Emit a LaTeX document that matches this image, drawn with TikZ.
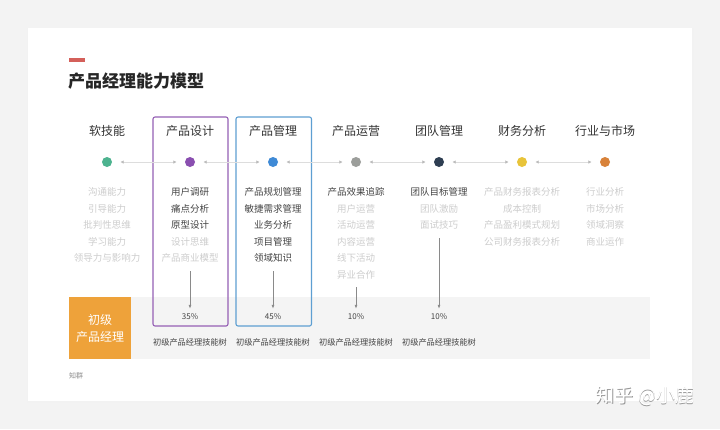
\documentclass[tikz,border=0pt]{standalone}
\usepackage{fontspec}
\setmainfont{Noto Sans CJK SC}
\newfontfamily\cjk{Noto Sans CJK SC}
\usetikzlibrary{arrows.meta}
\definecolor{bgout}{HTML}{F3F3F3}
\definecolor{band}{HTML}{F4F4F4}
\definecolor{titlec}{HTML}{262626}
\definecolor{redbar}{HTML}{D4605A}
\definecolor{headc}{HTML}{333333}
\definecolor{darkitem}{HTML}{444444}
\definecolor{lightitem}{HTML}{CDCDCD}
\definecolor{cgreen}{HTML}{4DB38F}
\definecolor{cpurple}{HTML}{8A4FB0}
\definecolor{cblue}{HTML}{3F8AD6}
\definecolor{cgrey}{HTML}{9C9E9B}
\definecolor{cnavy}{HTML}{2E3E52}
\definecolor{cyellow}{HTML}{E8C43A}
\definecolor{corange}{HTML}{D8823A}
\definecolor{boxpurple}{HTML}{9560B5}
\definecolor{boxblue}{HTML}{5E9FD2}
\definecolor{orangebox}{HTML}{EEA23A}
\definecolor{linkc}{HTML}{DDDDDD}
\definecolor{tipc}{HTML}{BBBBBB}
\definecolor{arrc}{HTML}{8A8A8A}
\tikzset{
  head/.style={font=\fontsize{12}{14}\selectfont, text=headc, inner sep=0pt},
  dk/.style={font=\fontsize{9.5}{11}\selectfont, text=darkitem, inner sep=0pt},
  lt/.style={font=\fontsize{9.5}{11}\selectfont, text=lightitem, inner sep=0pt},
  dotc/.style={circle, fill=#1, minimum size=10pt, inner sep=0pt},
  link/.style={draw=linkc, line width=0.7pt, {Latex[length=3.5pt,width=3.5pt,color=tipc]}-{Latex[length=3.5pt,width=3.5pt,color=tipc]}, shorten <=8pt, shorten >=8pt},
  downarr/.style={draw=arrc, line width=0.6pt, -{Latex[length=4pt,width=3pt]}},
  pct/.style={font=\fontsize{8}{10}\selectfont, text=darkitem, inner sep=0pt},
  treelab/.style={font=\fontsize{8.2}{10}\selectfont, text=darkitem, inner sep=0pt},
  wmark/.style={inner sep=0pt, font=\fontsize{19}{22}\selectfont},
}
\begin{document}
\begin{tikzpicture}[x=1pt,y=-1pt]
\fill[bgout] (0,0) rectangle (720,429);
\useasboundingbox (0,0) rectangle (720,429);
% card shadow + card
\fill[black!5] (26.5,27.5) rectangle (693.5,403);
\fill[white] (28,28) rectangle (692,401);
% title
\fill[redbar] (69,58) rectangle (85,61.5);
\node[anchor=west, inner sep=0pt, font=\fontsize{17}{20}\selectfont\bfseries, text=titlec] (title) at (68,81) {产品经理能力模型};
% grey band and orange box
\fill[band] (69,297) rectangle (650,359);
\node[fill=orangebox, minimum width=62pt, minimum height=62pt, inner sep=0pt, anchor=north west,
      align=center, text=white, font=\fontsize{12}{17}\selectfont] (level) at (69,297) {初级\\产品经理};
% highlight boxes
\draw[boxpurple, line width=1.1pt, rounded corners=2pt] (153,117) rectangle (228,326);
\draw[boxblue, line width=1.1pt, rounded corners=2pt] (236,117) rectangle (311.5,326);
% headers
\node[head] (h1) at (107,131) {软技能};
\node[head] (h2) at (190,131) {产品设计};
\node[head] (h3) at (273,131) {产品管理};
\node[head] (h4) at (356,131) {产品运营};
\node[head] (h5) at (439,131) {团队管理};
\node[head] (h6) at (522,131) {财务分析};
\node[head] (h7) at (605,131) {行业与市场};
% dots
\node[dotc=cgreen] (d1) at (107,162) {};
\node[dotc=cpurple] (d2) at (190,162) {};
\node[dotc=cblue] (d3) at (273,162) {};
\node[dotc=cgrey] (d4) at (356,162) {};
\node[dotc=cnavy] (d5) at (439,162) {};
\node[dotc=cyellow] (d6) at (522,162) {};
\node[dotc=corange] (d7) at (605,162) {};
\path[link] (d1) -- (d2);
\path[link] (d2) -- (d3);
\path[link] (d3) -- (d4);
\path[link] (d4) -- (d5);
\path[link] (d5) -- (d6);
\path[link] (d6) -- (d7);
% items column 1
\node[lt] (a1) at (107,192) {沟通能力};
\node[lt] (a2) at (107,208.5) {引导能力};
\node[lt] (a3) at (107,225) {批判性思维};
\node[lt] (a4) at (107,241.5) {学习能力};
\node[lt] (a5) at (107,258) {领导力与影响力};
% column 2
\node[dk] (b1) at (190,192) {用户调研};
\node[dk] (b2) at (190,208.5) {痛点分析};
\node[dk] (b3) at (190,225) {原型设计};
\node[lt] (b4) at (190,241.5) {设计思维};
\node[lt] (b5) at (190,258) {产品商业模型};
% column 3
\node[dk] (c1) at (273,192) {产品规划管理};
\node[dk] (c2) at (273,208.5) {敏捷需求管理};
\node[dk] (c3) at (273,225) {业务分析};
\node[dk] (c4) at (273,241.5) {项目管理};
\node[dk] (c5) at (273,258) {领域知识};
% column 4
\node[dk] (e1) at (356,192) {产品效果追踪};
\node[lt] (e2) at (356,208.5) {用户运营};
\node[lt] (e3) at (356,225) {活动运营};
\node[lt] (e4) at (356,241.5) {内容运营};
\node[lt] (e5) at (356,258) {线下活动};
\node[lt] (e6) at (356,274.5) {异业合作};
% column 5
\node[dk] (f1) at (439,192) {团队目标管理};
\node[lt] (f2) at (439,208.5) {团队激励};
\node[lt] (f3) at (439,225) {面试技巧};
% column 6
\node[lt] (g1) at (522,192) {产品财务报表分析};
\node[lt] (g2) at (522,208.5) {成本控制};
\node[lt] (g3) at (522,225) {产品盈利模式规划};
\node[lt] (g4) at (522,241.5) {公司财务报表分析};
% column 7
\node[lt] (k1) at (605,192) {行业分析};
\node[lt] (k2) at (605,208.5) {市场分析};
\node[lt] (k3) at (605,225) {领域洞察};
\node[lt] (k4) at (605,241.5) {商业运作};
% percentages
\node[pct] (p2) at (190,317) {35\%};
\node[pct] (p3) at (273,317) {45\%};
\node[pct] (p4) at (356,317) {10\%};
\node[pct] (p5) at (439,317) {10\%};
\coordinate (s2) at (190,271);
\coordinate (s3) at (273,271);
\coordinate (s4) at (356,287);
\coordinate (s5) at (439,238);
\draw[downarr] (s2) -- ([yshift=5pt]p2.north);
\draw[downarr] (s3) -- ([yshift=5pt]p3.north);
\draw[downarr] (s4) -- ([yshift=5pt]p4.north);
\draw[downarr] (s5) -- ([yshift=5pt]p5.north);
% tree labels
\node[treelab] (t2) at (190,342) {初级产品经理技能树};
\node[treelab] (t3) at (273,342) {初级产品经理技能树};
\node[treelab] (t4) at (356,342) {初级产品经理技能树};
\node[treelab] (t5) at (439,342) {初级产品经理技能树};
% source
\node[anchor=west, inner sep=0pt, font=\fontsize{7}{8}\selectfont, text=black!45] (src) at (69,376) {知群};
% watermark
\node[wmark, text=black!40] (wm0) at (645.7,396.7) {知乎 @小鹿};
\node[wmark, text=white] (wm) at (645,396) {知乎 @小鹿};
\end{tikzpicture}
\end{document}
